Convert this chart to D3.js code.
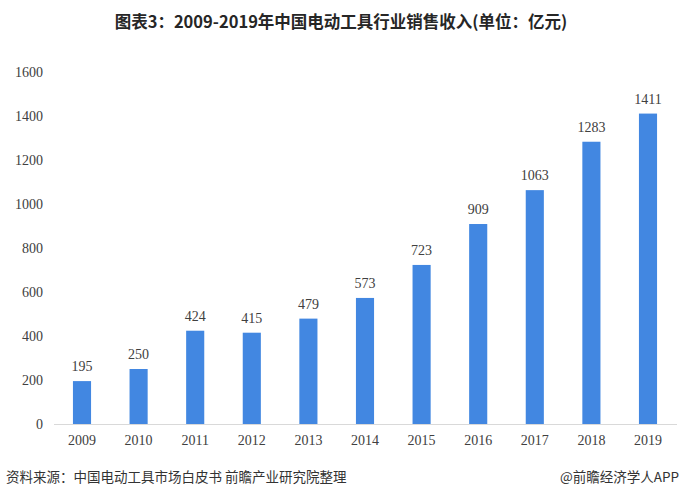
<!DOCTYPE html>
<html><head><meta charset="utf-8">
<script src="https://cdn.jsdelivr.net/npm/d3@7"></script>
<style>body{margin:0;background:#fff;}svg{display:block;}</style>
</head><body>
<script>
const years = ["2009","2010","2011","2012","2013","2014","2015","2016","2017","2018","2019"];
const revenue = [195,250,424,415,479,573,723,909,1063,1283,1411];
const yTicks = [0,200,400,600,800,1000,1200,1400,1600];
const title = "图表3：2009-2019年中国电动工具行业销售收入(单位：亿元)";
const source = "资料来源：中国电动工具市场白皮书 前瞻产业研究院整理";
const credit = "@前瞻经济学人APP";

const W = 681, H = 498;
const svg = d3.select("body").append("svg").attr("width", W).attr("height", H);
const x = d3.scaleBand().domain(years).range([53.7, 676.3]).paddingInner(0.68).paddingOuter(0.34);
const y = d3.scaleLinear().domain([0,1600]).range([424, 72]);
const serif = "'Liberation Serif','Times New Roman',serif";
const cjk = "'Noto Sans CJK SC','Noto Sans',sans-serif";

svg.append("text").attr("x", 341).attr("y", 28).attr("text-anchor","middle")
  .attr("font-family", cjk).attr("font-weight","bold").attr("font-size", 16.5)
  .attr("fill","#262626").text(title);

// y axis labels
svg.append("g").selectAll("text").data(yTicks).join("text")
  .attr("x", 43).attr("y", d => y(d)).attr("dy","0.35em").attr("text-anchor","end")
  .attr("font-family", serif).attr("font-size", 14).attr("fill","#404040").text(d => d);

// bars
svg.append("g").selectAll("rect").data(revenue).join("rect")
  .attr("x", (d,i) => x(years[i])).attr("width", x.bandwidth())
  .attr("y", d => y(d)).attr("height", d => y(0) - y(d))
  .attr("fill", "#4287E1");

// axis line
svg.append("line").attr("x1", 54).attr("x2", 677).attr("y1", 424.5).attr("y2", 424.5)
  .attr("stroke", "#d9d9d9").attr("stroke-width", 1);

// value labels
svg.append("g").selectAll("text").data(revenue).join("text")
  .attr("x", (d,i) => x(years[i]) + x.bandwidth()/2).attr("y", d => y(d) - 10)
  .attr("text-anchor","middle").attr("font-family", serif).attr("font-size", 14)
  .attr("fill","#404040").text(d => d);

// x labels
svg.append("g").selectAll("text").data(years).join("text")
  .attr("x", d => x(d) + x.bandwidth()/2).attr("y", 445)
  .attr("text-anchor","middle").attr("font-family", serif).attr("font-size", 14)
  .attr("fill","#404040").text(d => d);

svg.append("text").attr("x", 6).attr("y", 482).attr("font-family", cjk).attr("font-size", 13.5)
  .attr("fill","#333").text(source);
svg.append("text").attr("x", 679).attr("y", 482).attr("text-anchor","end").attr("font-family", cjk).attr("font-size", 13.5)
  .attr("fill","#333").text(credit);
</script>
</body></html>
